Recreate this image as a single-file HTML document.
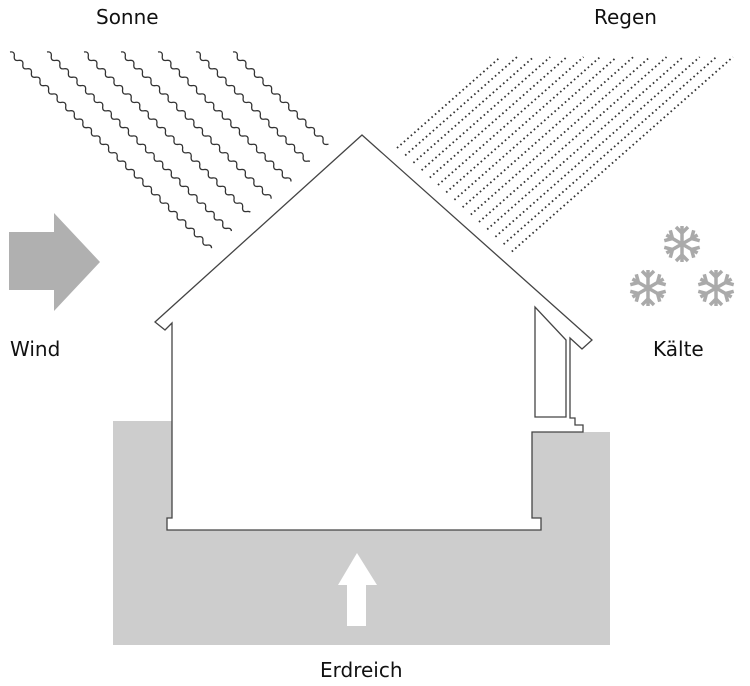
<!DOCTYPE html>
<html><head><meta charset="utf-8"><style>
html,body{margin:0;padding:0;background:#fff}
svg{display:block}
text{font-family:"DejaVu Sans","Liberation Sans",sans-serif;font-size:20px;fill:#111}
</style></head><body>
<svg width="750" height="686" viewBox="0 0 750 686" xmlns="http://www.w3.org/2000/svg">
<defs>
<path id="w" fill="none" stroke="#333" stroke-width="1.3" d="M0,0 q3,-4 6,0 t6,0 t6,0 t6,0 t6,0 t6,0 t6,0 t6,0 t6,0 t6,0 t6,0 t6,0 t6,0 t6,0 t6,0 t6,0 t6,0 t6,0 t6,0 t6,0 t6,0 t6,0 t6,0 t6,0 t6,0 t6,0 t6,0 t6,0 t6,0 t6,0 t6,0 t6,0 t6,0 t6,0 t6,0 t6,0 t6,0 t6,0 t6,0 t6,0 t6,0 t6,0 t6,0 t6,0 t6,0 t6,0 t6,0 t6,0 t6,0 t6,0 t6,0 t6,0 t6,0 t6,0 t6,0 t6,0 t6,0 t6,0"/>
<g id="sf" stroke="#aaa" stroke-width="3.5" fill="none">
<g id="arm"><line x1="0" y1="-18" x2="0" y2="18"/><polyline points="-6,-17 0,-11 6,-17"/><polyline points="-6,17 0,11 6,17"/></g>
<use href="#arm" transform="rotate(60)"/><use href="#arm" transform="rotate(-60)"/>
</g>
</defs>
<path d="M113,421 H172 V530 H532 V432 H610 V645 H113 Z" fill="#cdcdcd"/>
<path d="M362,135 L155,322 L165,330 L172,323 V518 H167 V530 H541 V518 H532 V432 H583 V425 H575 V418 H570 V338 L582,349 L592,340 Z" fill="#fff" stroke="#444" stroke-width="1.3"/>
<path d="M535,307 V417 H566 V340 Z" fill="#fff" stroke="#444" stroke-width="1.3"/>
<g>
<use href="#w" transform="translate(10,52) rotate(44.4)" stroke-dasharray="347 2000"/>
<use href="#w" transform="translate(47,52) rotate(44.4)" stroke-dasharray="317 2000"/>
<use href="#w" transform="translate(84,52) rotate(44.4)" stroke-dasharray="285 2000"/>
<use href="#w" transform="translate(121,52) rotate(44.4)" stroke-dasharray="259 2000"/>
<use href="#w" transform="translate(158,52) rotate(44.4)" stroke-dasharray="229 2000"/>
<use href="#w" transform="translate(196,52) rotate(44.4)" stroke-dasharray="195 2000"/>
<use href="#w" transform="translate(233,52) rotate(44.4)" stroke-dasharray="164 2000"/>
</g>
<g stroke="#333" stroke-width="1.8" stroke-dasharray="1.6 3" fill="none">
<line x1="397" y1="148" x2="500.4" y2="57"/>
<line x1="405.2" y1="155.4" x2="517" y2="57"/>
<line x1="413.4" y1="162.8" x2="533.6" y2="57"/>
<line x1="421.6" y1="170.2" x2="550.2" y2="57"/>
<line x1="429.8" y1="177.6" x2="566.8" y2="57"/>
<line x1="438" y1="185" x2="583.5" y2="57"/>
<line x1="446.2" y1="192.4" x2="600.1" y2="57"/>
<line x1="454.4" y1="199.8" x2="616.7" y2="57"/>
<line x1="462.6" y1="207.2" x2="633.3" y2="57"/>
<line x1="470.8" y1="214.6" x2="649.9" y2="57"/>
<line x1="479" y1="222" x2="666.5" y2="57"/>
<line x1="487.2" y1="229.4" x2="683.1" y2="57"/>
<line x1="495.4" y1="236.8" x2="699.7" y2="57"/>
<line x1="503.6" y1="244.2" x2="716.3" y2="57"/>
<line x1="511.8" y1="251.6" x2="732.9" y2="57"/>
</g>
<path d="M9,232 H54 V213 L100,262 L54,311 V290 H9 Z" fill="#b0b0b0"/>
<path d="M347,626 V585 H338 L357,553 L377,585 H366 V626 Z" fill="#fff"/>
<use href="#sf" transform="translate(682,244)"/>
<use href="#sf" transform="translate(648,288)"/>
<use href="#sf" transform="translate(716,288)"/>
<text x="96" y="24">Sonne</text>
<text x="594" y="24">Regen</text>
<text x="10" y="356">Wind</text>
<text x="653" y="356">Kälte</text>
<text x="320" y="677">Erdreich</text>
</svg>
</body></html>
